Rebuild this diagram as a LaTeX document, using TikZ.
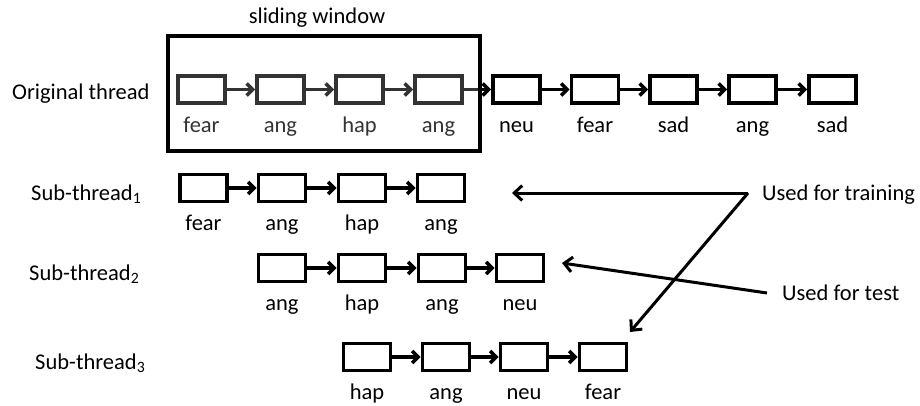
\documentclass[tikz,border=0pt]{standalone}
\usepackage{fontspec}
\setmainfont{Carlito}
\usetikzlibrary{arrows.meta}
\begin{document}
\begin{tikzpicture}[x=1pt,y=-1pt,
  every node/.style={font=\fontsize{22.5}{27}\selectfont},
  box/.style={draw, line width=3.8pt, minimum width=47pt, minimum height=27pt, inner sep=0pt},
  lab/.style={anchor=base, inner sep=0pt},
  rowlab/.style={anchor=base west, inner sep=0pt},
  link/.style={line width=3.6pt, -{Straight Barb[length=6pt,width=12pt]}},
  note/.style={line width=3pt, -{Straight Barb[length=8pt,width=15pt]}},
  window/.style={draw, line width=3.8pt, fill=white, fill opacity=0.2, draw opacity=1, inner sep=0pt}]
\useasboundingbox (0,0) rectangle (920,405);

% Original thread
\foreach \i/\x/\t in {1/201.5/fear, 2/280.5/ang, 3/359.5/hap, 4/438.5/ang, 5/516.5/neu, 6/595/fear, 7/673.5/sad, 8/752.5/ang, 9/832.5/sad}{
  \node[box] (o\i) at (\x,89.5) {};
  \node[lab] (ol\i) at (\x,132) {\t};
}
\foreach \i [evaluate=\i as \j using int(\i+1)] in {1,...,8}{
  \draw[link] (o\i) -- (o\j);
}
\node[rowlab] (ot) at (12,99) {Original thread};
\node[lab] (sw) at (317,23) {sliding window};
\node[window, minimum width=312pt, minimum height=115pt] (win) at (324,93.5) {};

% Sub-thread 1
\foreach \i/\x/\t in {1/203.5/fear, 2/282/ang, 3/362/hap, 4/441/ang}{
  \node[box] (a\i) at (\x,188) {};
  \node[lab] (al\i) at (\x,230) {\t};
}
% Sub-thread 2
\foreach \i/\x/\t in {1/282/ang, 2/362/hap, 3/442/ang, 4/520/neu}{
  \node[box] (b\i) at (\x,268) {};
  \node[lab] (bl\i) at (\x,310) {\t};
}
% Sub-thread 3
\foreach \i/\x/\t in {1/367/hap, 2/446/ang, 3/524/neu, 4/603/fear}{
  \node[box] (c\i) at (\x,357) {};
  \node[lab] (cl\i) at (\x,399) {\t};
}
\foreach \i [evaluate=\i as \j using int(\i+1)] in {1,2,3}{
  \draw[link] (a\i) -- (a\j);
  \draw[link] (b\i) -- (b\j);
  \draw[link] (c\i) -- (c\j);
}
\node[rowlab] (s1) at (31,200) {Sub-thread\textsubscript{1}};
\node[rowlab] (s2) at (29,280) {Sub-thread\textsubscript{2}};
\node[rowlab] (s3) at (35,369) {Sub-thread\textsubscript{3}};

% annotations
\node[rowlab] (ut) at (762,200) {Used for training};
\node[rowlab] (ux) at (782,300) {Used for test};
\coordinate (utp) at (748,193);
\coordinate (uxp) at (767,293);
\coordinate (t1) at (512,193);
\coordinate (t3) at (630,332);
\coordinate (t2) at (562,263);
\draw[note] (utp) -- (t1);
\draw[note] (utp) -- (t3);
\draw[note] (uxp) -- (t2);
\end{tikzpicture}
\end{document}
